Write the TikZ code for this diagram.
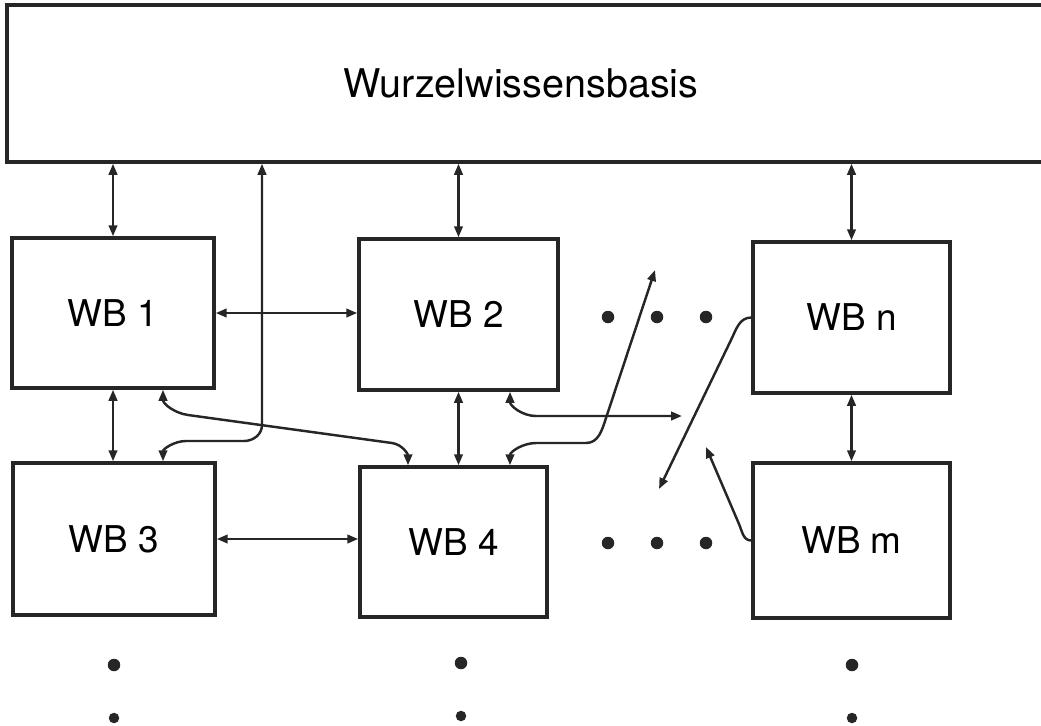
\documentclass[tikz,border=0pt]{standalone}
\usepackage{fontspec}
\setmainfont{TeX Gyre Heros}
\usetikzlibrary{arrows.meta,calc}

\colorlet{ink}{black!85}

\tikzset{
	kb/.style = {
		draw = ink,
		line width = 2pt,
		minimum width = 3.98cm,
		minimum height = 3.02cm,
		font = \fontsize{21}{25}\selectfont,
	},
	link/.style = {draw = ink, line width = 1.4pt, {Triangle[length = 2.2mm, width = 1.7mm]}-{Triangle[length = 2.2mm, width = 1.7mm]}},
	ray/.style = {draw = ink, line width = 1.4pt, -{Triangle[length = 2.2mm, width = 1.7mm]}},
	dot/.style = {circle, fill = ink, inner sep = 0pt, minimum size = 0.25cm},
}

\begin{document}
\begin{tikzpicture}[x = 0.02cm, y = -0.02cm]
	
	\useasboundingbox (0,0) rectangle (1041,725);
	
	% root knowledge base, runs off to the right
	\node[
		draw = ink,
		line width = 2pt,
		minimum width = 20.86cm,
		minimum height = 3.14cm,
		name = root,
	] at (528.5,83.5) {};
	\node[font = \fontsize{22.5}{27}\selectfont]
		(roottext) at ([xshift = -0.15cm]root.center) {Wurzelwissensbasis};
	
	\node[kb, minimum width = 4.04cm, minimum height = 3cm] (wb1) at (113,313) {WB 1};
	\node[kb] (wb2) at (458.5,314.5) {WB 2};
	\node[kb, minimum width = 4.04cm, minimum height = 3.04cm] (wb3) at (114,539) {WB 3};
	\node[kb, minimum width = 3.74cm, minimum height = 3cm] (wb4) at (453.5,542) {WB 4};
	\node[kb, minimum width = 3.94cm] (wbn) at (851.5,317.5) {WB n};
	\node[kb, minimum width = 3.94cm, minimum height = 3.1cm] (wbm) at (851.5,540.5) {WB m};
	
	% ellipses
	\foreach \x [count = \i] in {608,657,706} {
		\node[dot] (upper\i) at (\x,317) {};
		\node[dot] (lower\i) at (\x,543) {};
	}
	\foreach \col/\x/\y in {a/114/665, b/461/663, c/852/665} {
		\node[dot] (\col1) at (\x,\y) {};
		\node[dot, minimum size = 0.21cm] (\col2) at (\x,\y+53) {};
	}
	
	\draw[link] (root.south -| wb1.north) -- (wb1.north);
	\draw[link] (root.south -| wb2.north) -- (wb2.north);
	\draw[link] (root.south -| wbn.north) -- (wbn.north);
	\draw[link] (wb1.east) -- (wb1.east -| wb2.west);
	\draw[link] (wb3.east) -- (wb3.east -| wb4.west);
	\draw[link] (wb1.south) -- (wb1.south |- wb3.north);
	\draw[link] (wb2.south) -- (wb2.south |- wb4.north);
	\draw[link] (wbn.south) -- (wbn.south |- wbm.north);
	
	% crossing links
	\coordinate (riser) at (262,425);
	\coordinate (openE) at (682,416);
	\coordinate (openN) at (655,270);
	\coordinate (openS) at (659,489);
	\coordinate (openW) at (706,447);
	
	\draw[link] (root.south -| riser) -- (riser)
		to[out = -90, in = 0] (244,441) -- (186,441)
		to[out = 180, in = 90] ($(wb3.north)+(49,0)$);
	\draw[link] ($(wb1.south)+(50,0)$)
		to[out = -90, in = 172] (188,415) -- (392,443)
		to[out = -8, in = 90] ($(wb4.north)+(-45.5,0)$);
	\draw[link] ($(wb2.south)+(51.5,0)$)
		to[out = -90, in = 180] (536,416) -- (openE);
	\draw[link] ($(wb4.north)+(56.5,0)$)
		to[out = 90, in = 180] (536,443) -- (586,443)
		to[out = 0, in = -108] (606,418) -- (openN);
	\draw[ray] (wbn.west)
		to[out = 180, in = 64] (731,340) -- (openS);
	\draw[ray] (wbm.west)
		to[out = 180, in = -67] (739,524) -- (openW);
		
\end{tikzpicture}
\end{document}
